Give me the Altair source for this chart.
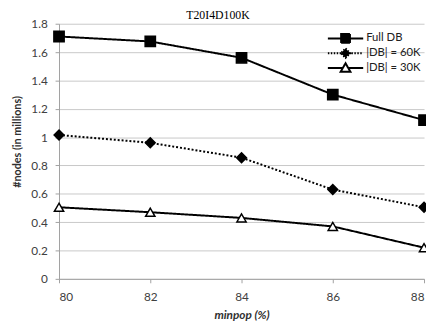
import altair as alt
import pandas as pd

minpop = [80, 82, 84, 86, 88]
series_names = ["Full DB", "|DB| = 60K", "|DB| = 30K"]
full_db = [1.71, 1.675, 1.56, 1.30, 1.12]
db_60k = [1.015, 0.96, 0.855, 0.63, 0.505]
db_30k = [0.505, 0.47, 0.43, 0.37, 0.22]
y_ticks = [0, 0.2, 0.4, 0.6, 0.8, 1, 1.2, 1.4, 1.6, 1.8]

rows = []
for name, vals in zip(series_names, [full_db, db_60k, db_30k]):
    for m, v in zip(minpop, vals):
        rows.append({"minpop": m, "series": name, "value": v})
df = pd.DataFrame(rows)

FONT = "Lato"
LBL = "#404040"

x = alt.X("minpop:Q", scale=alt.Scale(domain=[80, 88], nice=False, zero=False),
          axis=alt.Axis(values=minpop, title="minpop (%)", grid=False, format="d",
                        domain=True, domainColor="#a0a0a0", tickColor="#a0a0a0",
                        tickSize=4, labelPadding=9, titlePadding=7,
                        titleFontStyle="italic", titleFontWeight="bold"))
y = alt.Y("value:Q", scale=alt.Scale(domain=[0, 1.8], nice=False),
          axis=alt.Axis(values=y_ticks, title="#nodes (in millions)", grid=True,
                        format=".1~f",
                        gridColor="#c8c8c8", domain=True, domainColor="#a0a0a0",
                        tickColor="#a0a0a0", tickSize=4, labelPadding=8,
                        titleX=-42, titleY=120, titleBaseline="middle",
                        titleFontSize=11, titleFontWeight="bold"))

dash_scale = alt.Scale(domain=series_names, range=[[1, 0], [2, 2], [1, 0]])

lines = alt.Chart(df).mark_line(color="black", strokeWidth=2).encode(
    x=x, y=y,
    detail="series:N",
    strokeDash=alt.StrokeDash("series:N", scale=dash_scale, legend=None),
)

points = alt.Chart(df).mark_point(filled=True, opacity=1, stroke="black", strokeWidth=1.5).encode(
    x=x, y=y,
    shape=alt.Shape("series:N", scale=alt.Scale(domain=series_names,
                    range=["square", "diamond", "triangle-up"]), legend=None),
    fill=alt.Fill("series:N", scale=alt.Scale(domain=series_names,
                  range=["black", "black", "white"]), legend=None),
    size=alt.Size("series:N", scale=alt.Scale(domain=series_names,
                  range=[110, 90, 110]), legend=None),
)

# legend symbols: unit = 5px (symbol size 100)
sym_paths = [
    "M-3.6,0H3.6M-0.9,-0.9H0.9V0.9H-0.9Z",
    "M-3.6,0H3.6M0,-0.95L0.95,0L0,0.95L-0.95,0Z",
    "M-3.6,0H-0.55M0.55,0H3.6M0,-0.95L1,0.8H-1Z",
]

legend_layer = alt.Chart(df).transform_filter("false").mark_point(
    filled=False, opacity=1, size=100, strokeWidth=2
).encode(
    x=x, y=y,
    shape=alt.Shape("series:N", scale=alt.Scale(domain=series_names, range=sym_paths),
                    legend=alt.Legend(title=None, orient="none", legendX=286, legendY=9,
                                      symbolSize=100, symbolStrokeWidth=2,
                                      symbolStrokeColor="black", symbolOpacity=1,
                                      labelFont=FONT, labelFontSize=11.5, labelColor="#202020",
                                      labelOffset=15, rowPadding=-10)),
    fill=alt.Fill("series:N", scale=alt.Scale(domain=series_names,
                  range=["black", "black", "white"])),
    stroke=alt.Stroke("series:N", scale=alt.Scale(domain=series_names,
                      range=["black", "black", "black"])),
    strokeDash=alt.StrokeDash("series:N", scale=alt.Scale(domain=series_names,
                              range=[[1, 0], [1.5, 1.5], [1, 0]])),
)

chart = alt.layer(lines, points, legend_layer).resolve_scale(
    shape="independent", fill="independent", strokeDash="independent",
    stroke="independent"
).properties(
    width=372, height=260,
    autosize=alt.AutoSizeParams(type="none"),
    padding={"left": 52, "top": 13, "right": 2, "bottom": 45},
    title=alt.TitleParams("T20I4D100K", font="Liberation Serif", fontSize=12,
                          fontWeight="normal", color="black", anchor="middle",
                          dx=-24, offset=0, dy=4),
).configure_axis(
    labelFont=FONT, labelFontSize=12, labelColor=LBL,
    titleFont=FONT, titleFontSize=12, titleColor="#303030",
).configure_view(stroke=None)

chart.save("out.html", embed_options={"renderer": "svg", "actions": False})
